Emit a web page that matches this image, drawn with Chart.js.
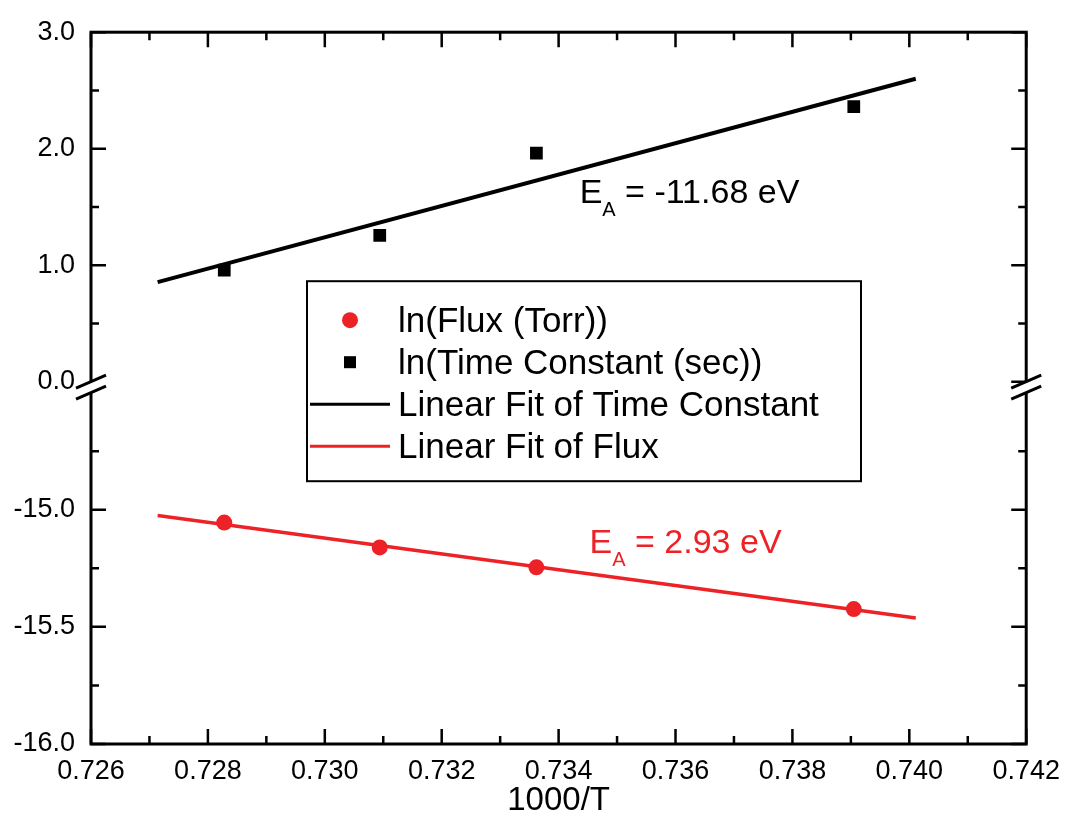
<!DOCTYPE html>
<html>
<head>
<meta charset="utf-8">
<title>ln(Flux) and ln(Time Constant) vs 1000/T</title>
<script src="https://cdn.jsdelivr.net/npm/chart.js@4.4.1/dist/chart.umd.min.js"></script>
<style>
    html, body { margin: 0; padding: 0; background: #fff; }
    #wrap { width: 1071px; height: 815px; }
</style>
</head>
<body>
<div id="wrap"><canvas id="arrheniusCanvas"></canvas></div>
<script>
// values
const invTemp = [0.72828, 0.73094, 0.73362, 0.73905];
const lnFlux = [-15.055, -15.161, -15.246, -15.424];
const lnTimeConst = [0.957, 1.255, 1.962, 2.362];

const fitX = [0.72714, 0.74011];
const fitTimeConst = [0.855, 2.600];
const fitFlux = [-15.025, -15.462];

const xTicks = [0.726, 0.728, 0.730, 0.732, 0.734, 0.736, 0.738, 0.740, 0.742];
const xMinor = [0.727, 0.729, 0.731, 0.733, 0.735, 0.737, 0.739, 0.741];
const yTopTicks = [0, 1, 2, 3];
const yTopMinor = [0.5, 1.5, 2.5];
const yBotTicks = [-16, -15.5, -15];
const yBotMinor = [-15.75, -15.25, -14.75];

const seriesNames = ['ln(Flux (Torr))', 'ln(Time Constant (sec))', 'Linear Fit of Time Constant', 'Linear Fit of Flux'];
const RED = '#ec2227';
const FONT = '"Liberation Sans", Arial, sans-serif';

Chart.defaults.font.family = FONT;
Chart.defaults.color = '#000';

const pts = (xs, ys) => xs.map((x, i) => ({x: x, y: ys[i]}));

// frame, inward ticks, axis breaks, legend box and E_A labels
const extrasPlugin = {
    id: 'extras',
    afterDraw(chart) {
        const ctx = chart.ctx;
        const {left, right, top, bottom} = chart.chartArea;
        const xs = chart.scales.x, yt = chart.scales.yTop, yb = chart.scales.yBot;
        ctx.save();
        ctx.strokeStyle = '#000';
        ctx.lineWidth = 3;
        ctx.strokeRect(left, top, right - left, bottom - top);

        ctx.lineWidth = 2.5;
        const vTick = (v, len) => {
            const x = xs.getPixelForValue(v);
            ctx.beginPath();
            ctx.moveTo(x, bottom); ctx.lineTo(x, bottom - len);
            ctx.moveTo(x, top); ctx.lineTo(x, top + len);
            ctx.stroke();
        };
        const hTick = (scale, v, len) => {
            const y = scale.getPixelForValue(v);
            ctx.beginPath();
            ctx.moveTo(left, y); ctx.lineTo(left + len, y);
            ctx.moveTo(right, y); ctx.lineTo(right - len, y);
            ctx.stroke();
        };
        xTicks.forEach(v => vTick(v, 15));
        xMinor.forEach(v => vTick(v, 8));
        yTopTicks.forEach(v => hTick(yt, v, 15));
        yTopMinor.forEach(v => hTick(yt, v, 8));
        yBotTicks.forEach(v => hTick(yb, v, 15));
        yBotMinor.forEach(v => hTick(yb, v, 8));

        // axis break marks
        const yA = yt.getPixelForValue(0);
        const yB = yb.getPixelForValue(-14.5);
        [left, right].forEach(x => {
            ctx.fillStyle = '#fff';
            ctx.beginPath();
            ctx.moveTo(x - 15, yA + 6.5); ctx.lineTo(x + 15, yA - 6.5);
            ctx.lineTo(x + 15, yB - 6.5); ctx.lineTo(x - 15, yB + 6.5);
            ctx.closePath();
            ctx.fill();
            ctx.lineWidth = 3;
            ctx.beginPath();
            ctx.moveTo(x - 15, yA + 6.5); ctx.lineTo(x + 15, yA - 6.5);
            ctx.moveTo(x - 15, yB + 6.5); ctx.lineTo(x + 15, yB - 6.5);
            ctx.stroke();
        });

        // legend
        const lx = left + 216, ly = top + 249, lw = 554, lh = 200;
        ctx.lineWidth = 2;
        ctx.strokeRect(lx, ly, lw, lh);
        ctx.font = '35px ' + FONT;
        ctx.textBaseline = 'middle';
        ctx.textAlign = 'left';
        chart.data.datasets.forEach((ds, i) => {
            const ry = ly + 39 + i * 42;
            if (ds.showLine) {
                ctx.strokeStyle = ds.borderColor;
                ctx.lineWidth = 3;
                ctx.beginPath();
                ctx.moveTo(lx + 3, ry); ctx.lineTo(lx + 83, ry);
                ctx.stroke();
            } else if (ds.pointStyle === 'rect') {
                ctx.fillStyle = ds.backgroundColor;
                ctx.fillRect(lx + 37, ry - 6, 12, 12);
            } else {
                ctx.fillStyle = ds.backgroundColor;
                ctx.beginPath();
                ctx.arc(lx + 43, ry, 8, 0, Math.PI * 2);
                ctx.fill();
            }
            ctx.fillStyle = '#000';
            ctx.fillText(ds.label, lx + 91, ry + 2);
        });

        // activation energy labels
        const label = (x, y, rest, color) => {
            ctx.fillStyle = color;
            ctx.textBaseline = 'alphabetic';
            ctx.font = '34px ' + FONT;
            ctx.fillText('E', x, y);
            const wE = ctx.measureText('E').width;
            ctx.font = '20px ' + FONT;
            ctx.fillText('A', x + wE, y + 13);
            const wA = ctx.measureText('A').width;
            ctx.font = '34px ' + FONT;
            ctx.fillText(rest, x + wE + wA, y);
        };
        label(xs.getPixelForValue(0.73436), yt.getPixelForValue(1.536), ' = -11.68 eV', '#000');
        label(xs.getPixelForValue(0.73453), yb.getPixelForValue(-15.186), ' = 2.93 eV', RED);
        ctx.restore();
    }
};

const ctx = document.getElementById('arrheniusCanvas').getContext('2d');

const arrheniusChart = new Chart(ctx, {
    type: 'scatter',
    data: {
        datasets: [
            {
                label: seriesNames[0],
                data: pts(invTemp, lnFlux),
                yAxisID: 'yBot',
                pointStyle: 'circle',
                pointRadius: 8,
                pointHoverRadius: 8,
                backgroundColor: RED,
                borderColor: RED,
                borderWidth: 0
            },
            {
                label: seriesNames[1],
                data: pts(invTemp, lnTimeConst),
                yAxisID: 'yTop',
                pointStyle: 'rect',
                pointRadius: 9,
                pointHoverRadius: 9,
                backgroundColor: '#000',
                borderColor: '#000',
                borderWidth: 0
            },
            {
                label: seriesNames[2],
                data: pts(fitX, fitTimeConst),
                yAxisID: 'yTop',
                showLine: true,
                pointRadius: 0,
                borderColor: '#000',
                borderWidth: 4
            },
            {
                label: seriesNames[3],
                data: pts(fitX, fitFlux),
                yAxisID: 'yBot',
                showLine: true,
                pointRadius: 0,
                borderColor: RED,
                borderWidth: 3.5
            }
        ]
    },
    options: {
        responsive: true,
        maintainAspectRatio: false,
        animation: false,
        layout: { padding: { top: 27, right: 38, left: 0, bottom: 0 } },
        plugins: {
            legend: { display: false },
            tooltip: { enabled: false }
        },
        scales: {
            x: {
                type: 'linear',
                min: 0.726,
                max: 0.742,
                grid: { display: false, drawTicks: false },
                border: { display: false },
                afterBuildTicks: s => { s.ticks = xTicks.map(v => ({value: v})); },
                afterFit: s => { s.height = 71; },
                ticks: {
                    padding: 11,
                    maxRotation: 0,
                    font: { size: 27 },
                    callback: v => v.toFixed(3)
                },
                title: {
                    display: true,
                    text: '1000/T',
                    font: { size: 33, lineHeight: 0.85 },
                    padding: { top: 0, bottom: 0 }
                }
            },
            yBot: {
                type: 'linear',
                position: 'left',
                stack: 'lnAxis',
                stackWeight: 1,
                weight: 1,
                min: -16,
                max: -14.481,
                grid: { display: false, drawTicks: false },
                border: { display: false },
                afterBuildTicks: s => { s.ticks = yBotTicks.map(v => ({value: v})); },
                afterFit: s => { s.width = 91; },
                ticks: { padding: 16, font: { size: 27 }, callback: v => v.toFixed(1) }
            },
            yTop: {
                type: 'linear',
                position: 'left',
                stack: 'lnAxis',
                stackWeight: 1,
                weight: 2,
                min: -0.055,
                max: 3,
                grid: { display: false, drawTicks: false },
                border: { display: false },
                afterBuildTicks: s => { s.ticks = yTopTicks.map(v => ({value: v})); },
                afterFit: s => { s.width = 91; },
                ticks: { padding: 16, font: { size: 27 }, callback: v => v.toFixed(1) }
            }
        }
    },
    plugins: [extrasPlugin]
});
</script>
</body>
</html>
